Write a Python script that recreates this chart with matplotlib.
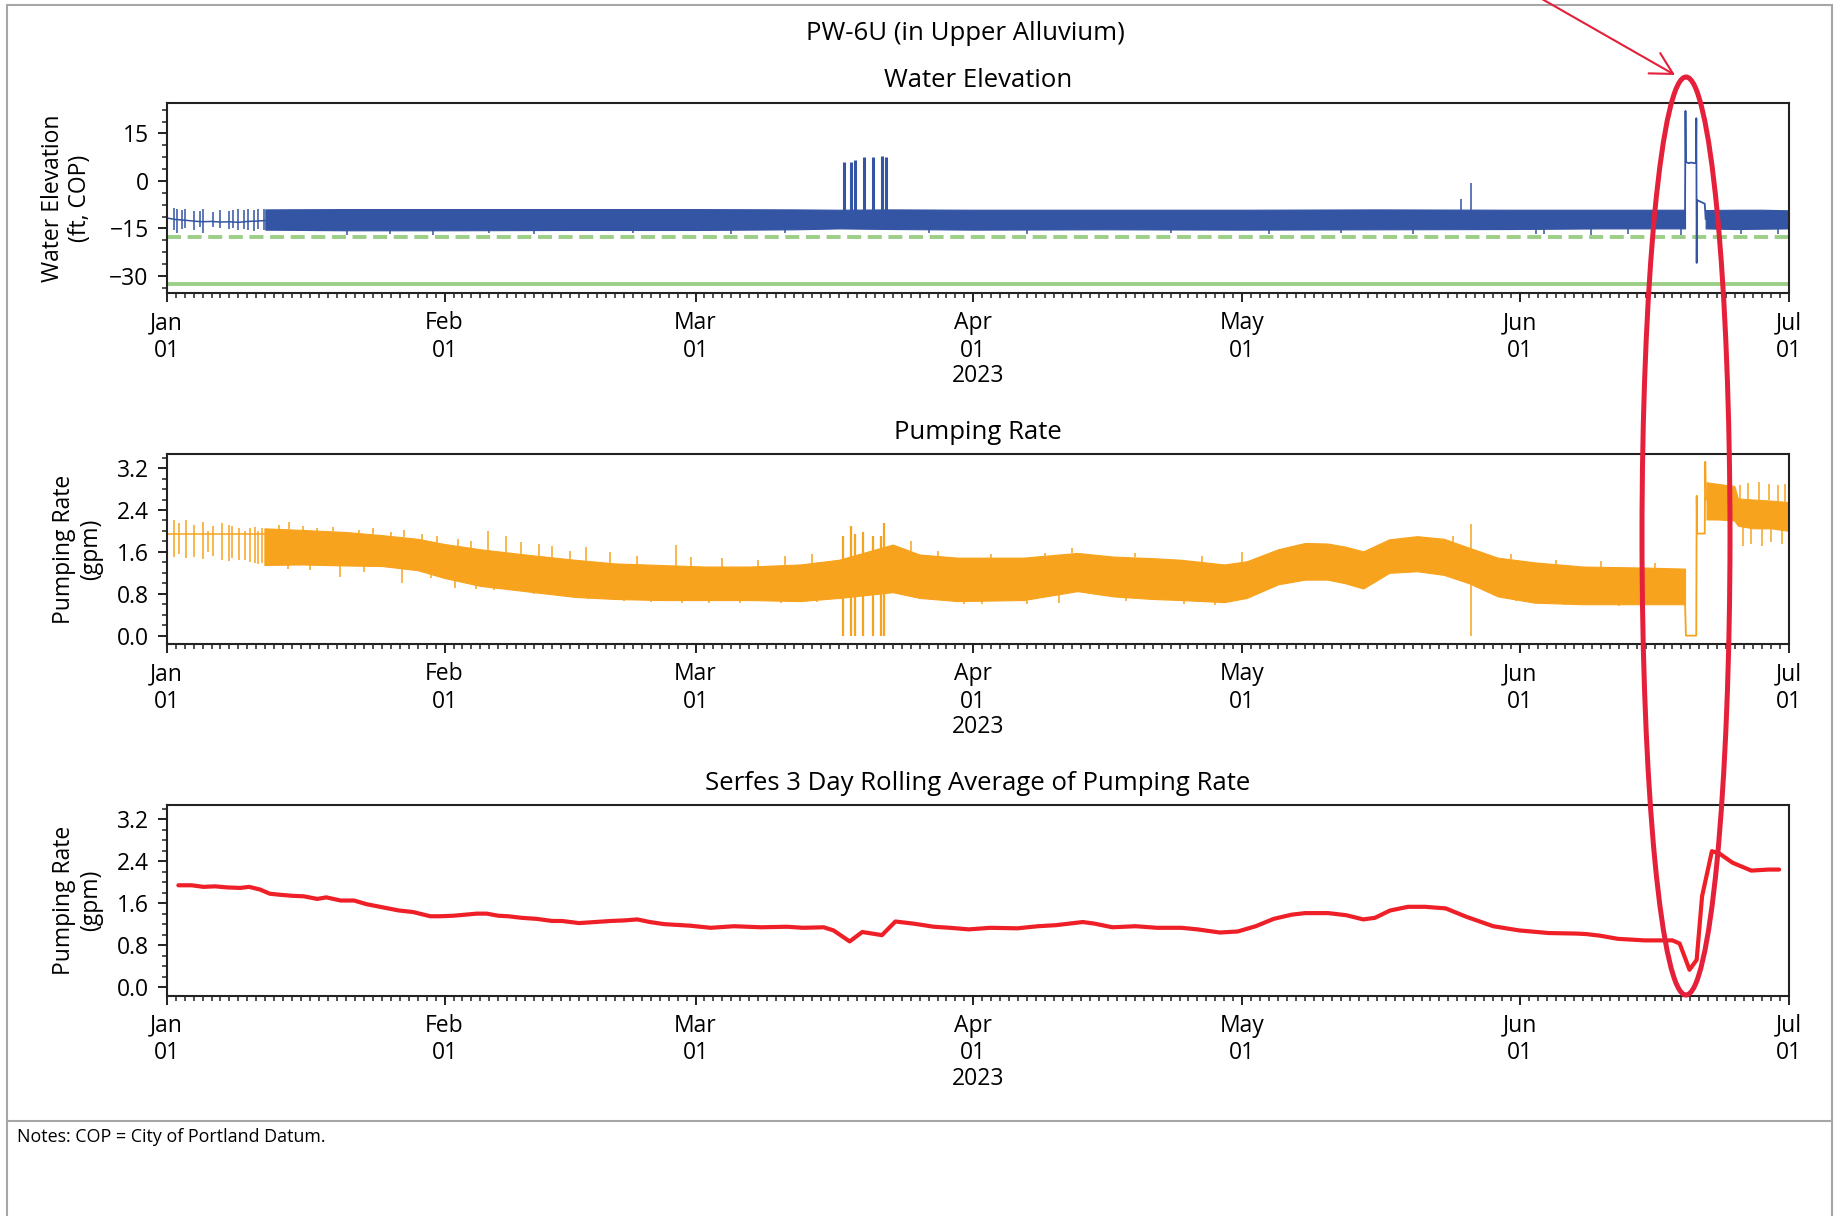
import numpy as np
import matplotlib
matplotlib.use("Agg")
import matplotlib.pyplot as plt
import matplotlib.dates as mdates
from matplotlib.ticker import MultipleLocator, AutoMinorLocator
from matplotlib.patches import Ellipse, FancyArrowPatch, Rectangle
from matplotlib.lines import Line2D

plt.rcParams['font.family'] = ['Open Sans', 'DejaVu Sans']
plt.rcParams['font.size'] = 16.5
plt.rcParams['axes.titlesize'] = 18.5
plt.rcParams['axes.unicode_minus'] = True

# ---- data (x values are days since 2023-01-01) ----

# water elevation
wl_dashed = -17.6
wl_solid = -32.7

wl_base_day = [0.0, 1.0, 2.0, 3.0, 4.0, 5.0, 6.0, 7.0, 8.0, 9.0, 10.0, 11.0]
wl_base_val = [-11.7, -12.2, -12.4, -12.7, -12.9, -12.8, -13.0, -12.9, -13.1, -12.8, -12.7, -12.5]

wl_jan_day = [0.8, 1.1, 1.7, 2.0, 3.0, 3.7, 4.1, 5.2, 5.9, 6.9, 7.4, 8.0, 8.6, 9.1, 9.7, 10.2, 10.8]
wl_jan_hi = [-8.7, -9.0, -9.3, -8.8, -9.6, -9.4, -9.0, -9.8, -9.2, -9.5, -9.1, -8.9, -9.3, -8.9, -9.2, -9.0, -8.9]
wl_jan_lo = [-15.5, -16.4, -15.2, -14.8, -15.6, -14.6, -16.6, -14.5, -15.0, -15.3, -14.8, -15.6, -15.1, -15.4, -15.8, -15.2, -15.6]

wl_band_day = [11, 20, 31, 45, 59, 70, 75, 81, 90, 105, 120, 135, 150, 160, 169.4]
wl_band_hi = [-9.0, -8.9, -8.9, -8.9, -8.9, -9.0, -9.1, -9.0, -9.1, -9.1, -9.1, -9.0, -9.1, -9.1, -9.1]
wl_band_lo = [-15.4, -15.6, -15.6, -15.5, -15.5, -15.3, -15.0, -15.2, -15.4, -15.3, -15.4, -15.3, -15.2, -15.0, -15.0]

wl_band2_day = [171.7, 175.0, 178.0, 181.0]
wl_band2_hi = [-9.2, -9.1, -9.1, -9.3]
wl_band2_lo = [-15.0, -15.2, -15.1, -15.0]

wl_dip_day = [20.1, 24.9, 29.7, 36.0, 41.0, 52.0, 63.0, 69.0, 85.0, 96.0, 112.0, 123.0,
              131.0, 139.0, 152.8, 153.7, 158.9, 163.0, 168.9, 175.7, 179.8]
wl_dip_lo = [-17.0, -16.8, -17.2, -16.6, -16.9, -16.5, -16.7, -16.4, -16.6, -16.8, -16.5, -16.7,
             -16.6, -16.9, -16.9, -16.7, -17.0, -16.8, -17.1, -16.9, -16.7]

wl_mar_day = [75.6, 76.3, 76.8, 77.8, 78.8, 79.8, 80.3]
wl_mar_top = [6.1, 6.1, 6.7, 7.4, 7.7, 7.9, 7.4]

wl_may_day = [144.4, 145.5]
wl_may_top = [-5.8, -0.6]

wl_evt_day = [169.40, 169.45, 169.50, 169.55, 169.8, 170.1, 170.4, 170.62, 170.66,
              170.70, 170.74, 170.80, 171.0, 171.3, 171.6, 171.7]
wl_evt_val = [-10.5, 22.1, 6.3, 5.9, 5.6, 5.8, 5.6, 5.7, 19.8,
              -25.9, -6.0, -6.2, -6.4, -6.8, -7.2, -12.0]

# pumping rate
pr_base_day = [0.0, 10.9]
pr_base_val = [1.94, 1.94]

pr_jan_day = [0.8, 1.4, 2.1, 3.1, 4.0, 4.6, 5.2, 6.2, 6.9, 7.3, 8.1, 8.7, 9.3, 9.8, 10.2, 10.6]
pr_jan_hi = [2.2, 2.15, 2.2, 2.12, 2.18, 2.0, 2.1, 2.15, 2.12, 2.1, 2.05, 2.0, 2.05, 2.08, 2.0, 2.05]
pr_jan_lo = [1.5, 1.55, 1.48, 1.5, 1.46, 1.6, 1.52, 1.45, 1.42, 1.48, 1.44, 1.45, 1.4, 1.38, 1.36, 1.38]

pr_band_day = [10.9, 15, 20, 24, 28, 31, 35, 40, 45.5, 50, 55, 60, 65, 70.7, 75, 81, 84, 88.2,
               95.6, 101.6, 105.6, 110, 113.1, 118, 120.5, 124, 127, 129.5, 131.5, 133.5,
               136.4, 139.5, 142.5, 145.3, 148.5, 152.6, 158, 165, 169.4]
pr_band_hi = [2.05, 2.02, 1.98, 1.92, 1.85, 1.75, 1.65, 1.55, 1.45, 1.38, 1.35, 1.32, 1.32, 1.36,
              1.45, 1.74, 1.55, 1.49, 1.49, 1.58, 1.51, 1.48, 1.45, 1.36, 1.42, 1.65, 1.77,
              1.76, 1.70, 1.61, 1.84, 1.90, 1.85, 1.68, 1.49, 1.40, 1.32, 1.30, 1.28]
pr_band_lo = [1.35, 1.36, 1.34, 1.33, 1.25, 1.10, 0.95, 0.85, 0.74, 0.70, 0.68, 0.68, 0.68, 0.66,
              0.72, 0.83, 0.72, 0.66, 0.68, 0.85, 0.75, 0.70, 0.68, 0.64, 0.72, 0.98, 1.07,
              1.07, 1.00, 0.90, 1.20, 1.23, 1.16, 1.00, 0.75, 0.63, 0.60, 0.60, 0.60]

pr_band2_day = [171.8, 173.0, 174.9, 175.3, 177.0, 179.0, 181.0]
pr_band2_hi = [2.93, 2.90, 2.86, 2.62, 2.60, 2.58, 2.55]
pr_band2_lo = [2.22, 2.22, 2.20, 2.10, 2.05, 2.05, 2.00]

# spikes poking out of the top / bottom of the pumping band
pr_up_day = [12.5, 13.7, 15.2, 16.8, 18.5, 21.5, 23.0, 25.0, 26.5, 28.5, 30.2, 32.5, 34.0,
             35.9, 37.8, 39.5, 41.5, 43.0, 45.0, 46.8, 49.5, 52.5, 56.8, 58.5, 62.0, 66.0,
             69.0, 72.0, 83.0, 86.0, 92.0, 98.0, 101.0, 108.0, 115.5, 120.0, 143.5, 150.0,
             155.0, 160.0, 166.0, 175.5, 176.4, 177.6, 178.8, 179.8, 180.6]
pr_up_hi = [2.12, 2.17, 2.10, 2.06, 2.08, 2.02, 2.05, 1.98, 2.01, 1.95, 1.90, 1.85, 1.80,
            2.00, 1.90, 1.78, 1.75, 1.72, 1.62, 1.70, 1.60, 1.52, 1.73, 1.50, 1.48, 1.45,
            1.52, 1.55, 1.80, 1.62, 1.55, 1.58, 1.68, 1.58, 1.52, 1.60, 1.90, 1.55,
            1.45, 1.42, 1.38, 2.88, 2.92, 2.93, 2.90, 2.87, 2.90]
pr_dn_day = [13.5, 16.0, 19.3, 22.0, 26.3, 29.5, 32.2, 34.5, 36.5, 38.6, 41.0, 44.2, 47.0,
             48.0, 51.0, 54.0, 57.5, 60.5, 64.0, 68.5, 72.5, 89.0, 91.0, 96.0, 99.5, 107.0,
             113.5, 117.0, 150.5, 156.0, 162.0, 175.9, 176.8, 178.0, 179.0, 180.2]
pr_dn_lo = [1.28, 1.25, 1.12, 1.22, 1.00, 1.10, 0.91, 0.90, 0.88, 0.88, 0.80, 0.82, 0.70,
            0.79, 0.66, 0.64, 0.62, 0.62, 0.62, 0.62, 0.64, 0.60, 0.60, 0.60, 0.62, 0.66,
            0.60, 0.58, 0.66, 0.58, 0.56, 1.72, 1.75, 1.71, 1.78, 1.76]

pr_mar_day = [75.5, 76.3, 76.8, 77.7, 78.8, 79.7, 80.0]
pr_mar_top = [1.90, 2.10, 1.95, 1.98, 1.90, 1.90, 2.16]

pr_may_day = [145.5]
pr_may_top = [2.13]

pr_evt_day = [169.4, 169.5, 170.65, 170.7, 170.75, 171.6, 171.65, 171.75]
pr_evt_val = [0.62, 0.0, 0.0, 2.67, 1.95, 1.95, 3.32, 2.60]

# serfes 3 day rolling average
ra_day = [1.3, 2.8, 4.1, 5.4, 6.7, 8.2, 9.2, 10.4, 11.5, 12.6, 14.0, 15.3, 16.8, 17.8, 19.4,
          20.9, 22.3, 23.8, 25.9, 27.5, 29.4, 30.5, 32.0, 34.6, 35.7, 37.0, 38.1, 39.6, 41.3,
          43.0, 44.1, 46.0, 47.8, 49.5, 51.0, 52.5, 53.9, 55.5, 58.4, 60.7, 63.3, 66.3, 69.2,
          71.0, 73.3, 74.4, 76.2, 77.6, 79.8, 81.3, 83.3, 85.6, 87.4, 89.5, 91.9, 94.9, 97.2,
          99.2, 102.2, 103.5, 105.5, 108.1, 110.5, 113.2, 115.0, 117.5, 119.5, 121.5, 123.5,
          125.5, 127.0, 129.6, 131.6, 133.5, 134.8, 136.5, 138.5, 140.4, 142.7, 145.0, 148.0,
          150.9, 154.2, 157.3, 158.4, 159.9, 161.9, 164.9, 168.0, 168.8, 169.9, 170.7, 171.3,
          172.4, 173.2, 174.7, 176.8, 178.7, 179.9]
ra_val = [1.94, 1.94, 1.91, 1.92, 1.90, 1.89, 1.91, 1.86, 1.78, 1.76, 1.74, 1.73, 1.68, 1.71,
          1.65, 1.65, 1.58, 1.53, 1.46, 1.43, 1.35, 1.35, 1.36, 1.40, 1.40, 1.36, 1.35, 1.32,
          1.30, 1.26, 1.26, 1.22, 1.24, 1.26, 1.27, 1.29, 1.24, 1.20, 1.17, 1.13, 1.16, 1.14,
          1.15, 1.13, 1.14, 1.08, 0.87, 1.05, 0.99, 1.25, 1.21, 1.15, 1.13, 1.10, 1.13, 1.12,
          1.16, 1.18, 1.24, 1.21, 1.14, 1.16, 1.13, 1.13, 1.10, 1.04, 1.06, 1.16, 1.30, 1.38,
          1.41, 1.41, 1.37, 1.29, 1.32, 1.46, 1.53, 1.53, 1.50, 1.34, 1.16, 1.08, 1.03, 1.02,
          1.01, 0.98, 0.92, 0.89, 0.89, 0.83, 0.33, 0.52, 1.73, 2.59, 2.55, 2.37, 2.22, 2.24, 2.24]

# ---- figure ----
W, H = 1839, 1216
BLUE = '#3454a4'
ORANGE = '#f8a31e'
RED = '#ee1f27'
GREEN = '#9ccf86'
INK = '#222222'
MARK = '#e5203a'

t0 = mdates.date2num(np.datetime64('2023-01-01'))


def tx(days):
    return t0 + np.asarray(days, dtype=float)


def rect(left, top, right, bottom):
    return [left / W, 1 - bottom / H, (right - left) / W, (bottom - top) / H]


def band_edge(days, bands, which):
    # where each spike leaves the band: the band edge at that day
    out = []
    for d in days:
        for bd, hi, lo in bands:
            if bd[0] <= d <= bd[-1]:
                out.append(np.interp(d, bd, hi if which == 'hi' else lo))
                break
    return out


fig = plt.figure(figsize=(W / 100, H / 100), dpi=100)

ax1 = fig.add_axes(rect(166.7, 102.7, 1789, 293.3))
ax2 = fig.add_axes(rect(166.7, 454, 1789, 644))
ax3 = fig.add_axes(rect(166.7, 805, 1789, 995.5))


def style_axes(ax, title, ylabel, ypad=10):
    ax.set_xlim(t0, t0 + 181)
    ax.xaxis.set_major_locator(mdates.MonthLocator())
    ax.xaxis.set_minor_locator(mdates.DayLocator())
    ax.xaxis.set_major_formatter(mdates.DateFormatter('%b\n%d'))
    ax.set_xlabel('2023', labelpad=1)
    ax.set_title(title, pad=11)
    ax.set_ylabel(ylabel, labelpad=ypad, linespacing=1.15)
    ax.yaxis.set_minor_locator(AutoMinorLocator(4))
    ax.tick_params(which='major', length=6.5, width=1.4, pad=6.5, color=INK)
    ax.tick_params(which='minor', length=3.5, width=1.1, color=INK)
    for s in ax.spines.values():
        s.set_linewidth(1.5)
        s.set_color(INK)


# water elevation
wl_bands = [(wl_band_day, wl_band_hi, wl_band_lo), (wl_band2_day, wl_band2_hi, wl_band2_lo)]
ax1.axhline(wl_dashed, color=GREEN, lw=2.8, ls=(0, (3.6, 1.7)), zorder=1)
ax1.axhline(wl_solid, color=GREEN, lw=2.8, zorder=1)
ax1.plot(tx(wl_base_day), wl_base_val, color=BLUE, lw=1.1, zorder=2)
ax1.vlines(tx(wl_jan_day), wl_jan_lo, wl_jan_hi, color=BLUE, lw=1.1, zorder=2)
for d, hi, lo in wl_bands:
    ax1.fill_between(tx(d), lo, hi, color=BLUE, lw=0.8, zorder=2)
ax1.vlines(tx(wl_dip_day), band_edge(wl_dip_day, wl_bands, 'lo'), wl_dip_lo, color=BLUE, lw=1.1, zorder=2)
ax1.vlines(tx(wl_mar_day), -10.0, wl_mar_top, color=BLUE, lw=2.2, zorder=2)
ax1.vlines(tx(wl_may_day), -9.5, wl_may_top, color=BLUE, lw=1.1, zorder=2)
ax1.plot(tx(wl_evt_day), wl_evt_val, color=BLUE, lw=1.3, zorder=2)
ax1.set_ylim(-35.5, 24.7)
ax1.yaxis.set_major_locator(MultipleLocator(15))
style_axes(ax1, 'Water Elevation', 'Water Elevation\n(ft, COP)', ypad=12.5)

# pumping rate
pr_bands = [(pr_band_day, pr_band_hi, pr_band_lo), (pr_band2_day, pr_band2_hi, pr_band2_lo)]
ax2.plot(tx(pr_base_day), pr_base_val, color=ORANGE, lw=1.1, zorder=2)
ax2.vlines(tx(pr_jan_day), pr_jan_lo, pr_jan_hi, color=ORANGE, lw=1.1, zorder=2)
for d, hi, lo in pr_bands:
    ax2.fill_between(tx(d), lo, hi, color=ORANGE, lw=0.8, zorder=2)
ax2.vlines(tx(pr_up_day), band_edge(pr_up_day, pr_bands, 'hi'), pr_up_hi, color=ORANGE, lw=1.1, zorder=2)
ax2.vlines(tx(pr_dn_day), band_edge(pr_dn_day, pr_bands, 'lo'), pr_dn_lo, color=ORANGE, lw=1.1, zorder=2)
ax2.vlines(tx(pr_mar_day), 0.0, pr_mar_top, color=ORANGE, lw=1.6, zorder=2)
ax2.vlines(tx(pr_may_day), 0.0, pr_may_top, color=ORANGE, lw=1.1, zorder=2)
ax2.plot(tx(pr_evt_day), pr_evt_val, color=ORANGE, lw=1.3, zorder=2)
ax2.set_ylim(-0.16, 3.47)
ax2.yaxis.set_major_locator(MultipleLocator(0.8))
style_axes(ax2, 'Pumping Rate', 'Pumping Rate\n(gpm)')

# rolling average
ax3.plot(tx(ra_day), ra_val, color=RED, lw=3, solid_capstyle='round', zorder=2)
ax3.set_ylim(-0.16, 3.47)
ax3.yaxis.set_major_locator(MultipleLocator(0.8))
style_axes(ax3, 'Serfes 3 Day Rolling Average of Pumping Rate', 'Pumping Rate\n(gpm)')

# page frame and notes
fig.add_artist(Rectangle((7 / W, -0.02), 1825 / W, 1 - 5 / H + 0.02, transform=fig.transFigure,
                         fill=False, edgecolor='#a6a6a6', lw=1.5))
fig.add_artist(Line2D([7 / W, 1832 / W], [1 - 1121 / H, 1 - 1121 / H], transform=fig.transFigure,
                      color='#a6a6a6', lw=1.5))
fig.text(965 / W, 1 - 33 / H, 'PW-6U (in Upper Alluvium)', ha='center', va='center', fontsize=18.5)
fig.text(17 / W, 1 - 1137 / H, 'Notes: COP = City of Portland Datum.', fontsize=12.9, va='center')

# hand-drawn highlight
fig.add_artist(Ellipse((1686 / W, 1 - 536 / H), 88 / W, 918 / H, transform=fig.transFigure,
                       fill=False, edgecolor=MARK, lw=3.6, zorder=10))
fig.add_artist(FancyArrowPatch((1500 / W, 1 + 25 / H), (1675 / W, 1 - 75 / H),
                               transform=fig.transFigure, color=MARK, lw=1.5,
                               arrowstyle='->,head_length=1.55,head_width=0.84',
                               mutation_scale=10, shrinkA=0, shrinkB=0, zorder=10))

fig.savefig('out.png', dpi=100)
